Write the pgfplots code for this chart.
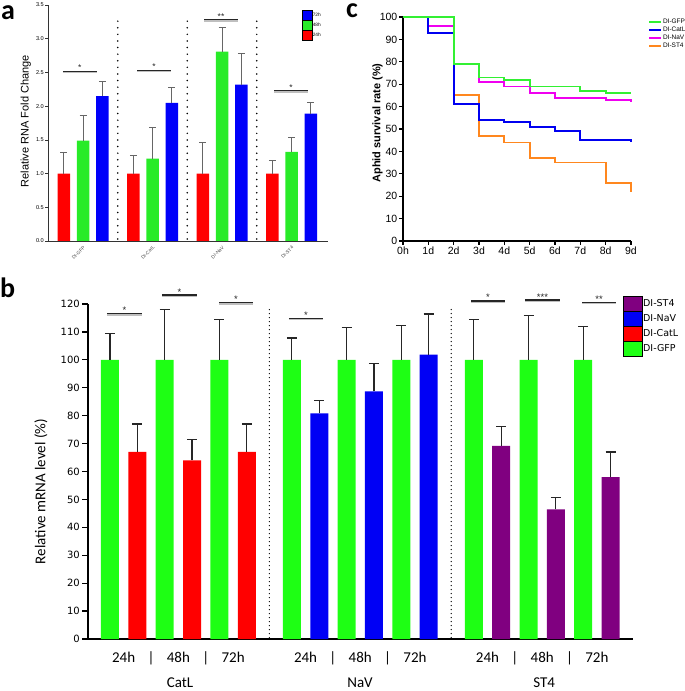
\documentclass[border=0pt]{standalone}
\usepackage{pgfplots}
\pgfplotsset{compat=1.18}
\usepackage{fontspec}
\setmainfont{Liberation Sans}
\newfontfamily\dejavu{DejaVu Sans}
\newfontfamily\carlito{Carlito}

\definecolor{redA}{RGB}{255,0,0}
\definecolor{greenA}{RGB}{40,235,40}
\definecolor{blueA}{RGB}{0,0,250}
\definecolor{greenB}{RGB}{30,255,20}
\definecolor{redB}{RGB}{255,0,0}
\definecolor{blueB}{RGB}{0,0,245}
\definecolor{purpleB}{RGB}{128,0,128}
\definecolor{greenC}{RGB}{50,240,50}
\definecolor{blueC}{RGB}{0,0,240}
\definecolor{magC}{RGB}{240,0,240}
\definecolor{orangeC}{RGB}{255,135,30}

\pgfplotsset{
  /pgf/number format/assume math mode=true,
  barA/.style={ybar, bar width=12.5pt, bar shift=0pt, draw=none, fill=#1, forget plot,
    error bars/.cd, y dir=plus, y explicit,
    error bar style={black!60, line width=0.9pt},
    error mark options={rotate=90, mark size=3.5pt, black!60, line width=0.9pt}},
  barB/.style={ybar, bar width=18pt, bar shift=0pt, draw=none, fill=#1, forget plot,
    error bars/.cd, y dir=plus, y explicit,
    error bar style={black!85, line width=1.2pt},
    error mark options={rotate=90, mark size=5pt, black!85, line width=1.2pt}},
}
\tikzset{
  dotA/.style={line width=1.7pt, line cap=round, dash pattern=on 0pt off 6.6pt, black},
  dotB/.style={line width=1.3pt, line cap=round, dash pattern=on 0pt off 4pt, black},
  shadowA/.style={line width=1.4pt, black!25, yshift=-1.2pt},
  sigA/.style={line width=1.1pt, black!85},
  starA/.style={midway, anchor=base, yshift=0.5pt, font=\fontsize{8.5}{9}\selectfont},
  shadowB/.style={line width=1.6pt, black!25, yshift=-1.2pt},
  sigB/.style={line width=1.2pt, black!85},
  starB/.style={midway, anchor=base, font=\fontsize{9.5}{9.5}\selectfont},
  grp/.style={font=\carlito\fontsize{15}{15}\selectfont, anchor=base, yshift=-48.5pt},
  letter/.style={font=\carlito\bfseries\fontsize{28}{28}\selectfont, anchor=base west, inner sep=0pt},
}

\begin{document}
\begin{tikzpicture}
\path[use as bounding box] (0pt,0pt) rectangle (685pt,691pt);

% ---------- panel a
\begin{axis}[
  at={(48pt,450pt)}, anchor=south west, scale only axis,
  width=280pt, height=236pt, clip=false,
  xmin=-0.504, xmax=3.525, ymin=0, ymax=3.5,
  axis x line=bottom, axis y line=left,
  axis line style={-, line width=0.8pt, black!80},
  xtick={0,1,2,3}, xticklabels={DI-GFP,DI-CatL,DI-NaV,DI-ST4},
  xtick style={draw=none},
  xticklabel style={rotate=45, anchor=north east, font=\fontsize{4.8}{5}\selectfont, black!70, inner sep=1pt},
  ytick={0,0.5,1,1.5,2,2.5,3,3.5},
  yticklabel style={/pgf/number format/fixed, /pgf/number format/fixed zerofill,
    /pgf/number format/precision=1, font=\fontsize{5.6}{6}\selectfont, inner sep=1pt},
  ytick style={black!80, line width=0.6pt},
  tick align=outside, major tick length=3pt,
  ylabel={Relative RNA Fold Change},
  ylabel style={font=\fontsize{11}{12}\selectfont, at={(axis description cs:-0.079,0.508)}, anchor=center},
  legend image code/.code={\fill[#1] (0pt,-4.8pt) rectangle (10pt,4.8pt);},
  legend style={at={(0.905,0.978)}, anchor=north west, draw=none, fill=none, inner sep=0pt,
    font=\fontsize{4.8}{5}\selectfont, nodes={inner sep=0.8pt}, row sep=0pt},
  legend cell align=left,
]
\addplot[barA=redA] coordinates {(-0.277,1.0) +- (0,0.32) (0.723,1.0) +- (0,0.27) (1.723,1.0) +- (0,0.46) (2.723,1.0) +- (0,0.20)};
\addplot[barA=greenA] coordinates {(0,1.49) +- (0,0.37) (1,1.22) +- (0,0.47) (2,2.81) +- (0,0.35) (3,1.32) +- (0,0.22)};
\addplot[barA=blueA] coordinates {(0.277,2.15) +- (0,0.21) (1.277,2.05) +- (0,0.23) (2.277,2.32) +- (0,0.46) (3.277,1.89) +- (0,0.17)};
\addlegendimage{fill=blueA}\addlegendentry{72h}
\addlegendimage{fill=greenA}\addlegendentry{48h}
\addlegendimage{fill=redA}\addlegendentry{24h}
\draw[dotA] (axis cs:0.5,0.03) -- (axis cs:0.5,3.34);
\draw[dotA] (axis cs:1.5,0.03) -- (axis cs:1.5,3.34);
\draw[dotA] (axis cs:2.5,0.03) -- (axis cs:2.5,3.34);
\draw[shadowA] (axis cs:-0.29,2.52) -- (axis cs:0.20,2.52);
\draw[sigA] (axis cs:-0.29,2.52) -- (axis cs:0.20,2.52) node[starA] {*};
\draw[shadowA] (axis cs:0.777,2.53) -- (axis cs:1.266,2.53);
\draw[sigA] (axis cs:0.777,2.53) -- (axis cs:1.266,2.53) node[starA] {*};
\draw[shadowA] (axis cs:1.741,3.28) -- (axis cs:2.23,3.28);
\draw[sigA] (axis cs:1.741,3.28) -- (axis cs:2.23,3.28) node[starA] {**};
\draw[shadowA] (axis cs:2.748,2.23) -- (axis cs:3.237,2.23);
\draw[sigA] (axis cs:2.748,2.23) -- (axis cs:3.237,2.23) node[starA] {*};
\end{axis}

% ---------- panel c
\begin{axis}[
  at={(403pt,450pt)}, anchor=south west, scale only axis,
  width=228pt, height=224pt, clip=false,
  xmin=0, xmax=9, ymin=0, ymax=100,
  axis x line=bottom, axis y line=left,
  axis line style={-, line width=1.3pt},
  xtick={0,1,2,3,4,5,6,7,8,9}, xticklabels={0h,1d,2d,3d,4d,5d,6d,7d,8d,9d},
  ytick={0,10,20,30,40,50,60,70,80,90,100},
  tick align=outside, major tick length=4pt,
  tick style={line width=1.2pt, black},
  tick label style={font=\fontsize{10.5}{11}\selectfont, inner sep=1.5pt},
  ylabel={Aphid survival rate (\%)},
  ylabel style={font=\bfseries\fontsize{11}{12}\selectfont, at={(axis description cs:-0.112,0.527)}, anchor=center},
  legend image code/.code={\draw[#1] (0pt,0pt) -- (12pt,0pt);},
  legend style={at={(1.0746,0.995)}, anchor=north west, draw=none, fill=none, inner sep=0pt,
    font=\fontsize{6.5}{7}\selectfont, nodes={inner sep=1pt}, row sep=0pt},
  legend cell align=left,
]
\addplot[orangeC, line width=1.8pt, const plot, forget plot] coordinates {(0,100) (2,65) (3,47) (4,44) (5,37) (6,35) (8,26) (9,26) (9,22)};
\addplot[magC, line width=1.8pt, const plot, forget plot] coordinates {(0,100) (1,96) (2,79) (3,71) (4,69) (5,66) (6,64) (8,63) (9,63) (9,62)};
\addplot[blueC, line width=1.8pt, const plot, forget plot] coordinates {(0,100) (1,93) (2,61) (3,54) (4,53) (5,51) (6,49) (7,45) (9,45) (9,44)};
\addplot[greenC, line width=1.8pt, const plot, forget plot] coordinates {(0,100) (2,79) (3,73) (4,72) (5,69) (7,67) (8,66) (9,66)};
\addlegendimage{greenC, line width=1.8pt}\addlegendentry{DI-GFP}
\addlegendimage{blueC, line width=1.8pt}\addlegendentry{DI-CatL}
\addlegendimage{magC, line width=1.8pt}\addlegendentry{DI-NaV}
\addlegendimage{orangeC, line width=1.8pt}\addlegendentry{DI-ST4}
\end{axis}

% ---------- panel b
\begin{axis}[
  at={(88pt,52pt)}, anchor=south west, scale only axis,
  width=545pt, height=335pt, clip=false,
  xmin=-0.804, xmax=19.12, ymin=0, ymax=120,
  axis x line=bottom, axis y line=left,
  axis line style={-, line width=1.5pt},
  xtick={0.5,1.5,2.5,3.5,4.5,7.15,8.15,9.15,10.15,11.15,13.8,14.8,15.8,16.8,17.8},
  xticklabels={24h,|,48h,|,72h,24h,|,48h,|,72h,24h,|,48h,|,72h},
  xtick style={draw=none},
  xticklabel style={font=\carlito\fontsize{15}{15}\selectfont, anchor=base, yshift=-17pt},
  ytick={0,10,20,30,40,50,60,70,80,90,100,110,120},
  yticklabel style={font=\dejavu\fontsize{10}{10}\selectfont, inner sep=2pt},
  ytick style={line width=1.3pt, black},
  tick align=outside, major tick length=6pt,
  ylabel={Relative mRNA level (\%)},
  ylabel style={font=\carlito\fontsize{15}{16}\selectfont, at={(axis description cs:-0.0862,0.44)}, anchor=center},
  legend image code/.code={\fill[#1] (0pt,-7.3pt) rectangle (19pt,7.3pt);},
  legend style={at={(0.9817,1.024)}, anchor=north west, draw=none, fill=none, inner sep=0pt,
    font=\dejavu\fontsize{9.5}{10}\selectfont, nodes={inner sep=0.5pt}, row sep=0pt},
  legend cell align=left,
]
\addplot[barB=greenB] coordinates {
  (0,100) +- (0,9.5) (2,100) +- (0,18) (4,100) +- (0,14.5)
  (6.65,100) +- (0,7.8) (8.65,100) +- (0,11.6) (10.65,100) +- (0,12.2)
  (13.3,100) +- (0,14.4) (15.3,100) +- (0,16) (17.3,100) +- (0,12)};
\addplot[barB=redB] coordinates {(1,67) +- (0,10) (3,64) +- (0,7.5) (5,67) +- (0,10)};
\addplot[barB=blueB] coordinates {(7.65,80.8) +- (0,4.5) (9.65,88.7) +- (0,10) (11.65,101.9) +- (0,14.5)};
\addplot[barB=purpleB] coordinates {(14.3,69.2) +- (0,6.8) (16.3,46.4) +- (0,4.4) (18.3,58) +- (0,9)};
\addlegendimage{fill=purpleB}\addlegendentry{DI-ST4}
\addlegendimage{fill=blueB}\addlegendentry{DI-NaV}
\addlegendimage{fill=redB}\addlegendentry{DI-CatL}
\addlegendimage{fill=greenB}\addlegendentry{DI-GFP}
\draw[dotB] (axis cs:5.825,0.5) -- (axis cs:5.825,119);
\draw[dotB] (axis cs:12.475,0.5) -- (axis cs:12.475,119);
\draw[shadowB] (axis cs:-0.11,116.5) -- (axis cs:1.17,116.5);
\draw[sigB] (axis cs:-0.11,116.5) -- (axis cs:1.17,116.5) node[starB] {*};
\draw[shadowB] (axis cs:1.9,123.2) -- (axis cs:3.18,123.2);
\draw[sigB] (axis cs:1.9,123.2) -- (axis cs:3.18,123.2) node[starB] {*};
\draw[shadowB] (axis cs:3.99,120.4) -- (axis cs:5.23,120.4);
\draw[sigB] (axis cs:3.99,120.4) -- (axis cs:5.23,120.4) node[starB] {*};
\draw[shadowB] (axis cs:6.54,114.9) -- (axis cs:7.79,114.9);
\draw[sigB] (axis cs:6.54,114.9) -- (axis cs:7.79,114.9) node[starB] {*};
\draw[shadowB] (axis cs:13.2,121.1) -- (axis cs:14.44,121.1);
\draw[sigB] (axis cs:13.2,121.1) -- (axis cs:14.44,121.1) node[starB] {*};
\draw[shadowB] (axis cs:15.17,121.4) -- (axis cs:16.45,121.4);
\draw[sigB] (axis cs:15.17,121.4) -- (axis cs:16.45,121.4) node[starB] {***};
\draw[shadowB] (axis cs:17.26,120.6) -- (axis cs:18.5,120.6);
\draw[sigB] (axis cs:17.26,120.6) -- (axis cs:18.5,120.6) node[starB] {**};
\node[grp] at (axis cs:2.56,0) {CatL};
\node[grp] at (axis cs:9.14,0) {NaV};
\node[grp] at (axis cs:15.87,0) {ST4};
\end{axis}

\node[letter] at (1pt,671pt) {a};
\node[letter] at (346pt,673pt) {c};
\node[letter] at (0pt,393pt) {b};
\end{tikzpicture}
\end{document}
